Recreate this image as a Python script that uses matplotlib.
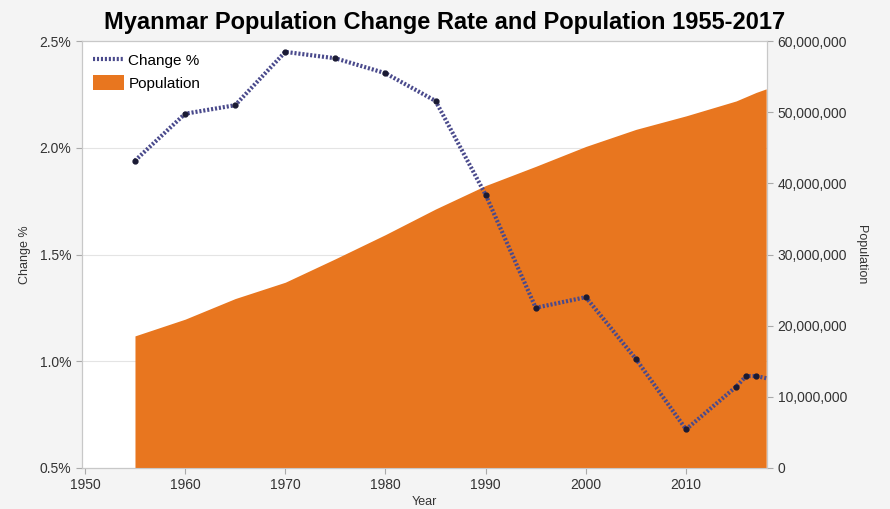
import matplotlib.pyplot as plt
from matplotlib.ticker import FuncFormatter
from matplotlib.lines import Line2D
from matplotlib.patches import Patch

plt.rcParams['font.family'] = ['Liberation Sans', 'DejaVu Sans']

years = [1955, 1960, 1965, 1970, 1975, 1980, 1985, 1990, 1995, 2000,
         2005, 2010, 2015, 2016, 2017, 2018]
change_pct = [1.94, 2.16, 2.20, 2.45, 2.42, 2.35, 2.22, 1.78, 1.25, 1.30,
              1.01, 0.68, 0.88, 0.93, 0.93, 0.92]
population = [18.55e6, 20.9e6, 23.8e6, 26.1e6, 29.4e6, 32.8e6, 36.4e6, 39.7e6,
              42.4e6, 45.2e6, 47.6e6, 49.5e6, 51.6e6, 52.2e6, 52.8e6, 53.3e6]

orange = '#e8761f'
line_col = '#4a4a8c'
dots = (0, (0.5, 0.45))

fig = plt.figure(figsize=(8.9, 5.09), dpi=100, facecolor='#f4f4f4')
ax = fig.add_axes([0.092, 0.081, 0.77, 0.838])
ax.set_facecolor('white')
ax2 = ax.twinx()

ax.grid(axis='y', color='#e4e4e4', linewidth=0.8)
ax.set_axisbelow(True)

ax2.fill_between(years, population, 0, color=orange, linewidth=0, zorder=1)
# the line is drawn on the right axes but in left-axis units, so it sits on the fill
ax2.plot(years, change_pct, transform=ax.transData, linestyle=dots,
         linewidth=3, color=line_col, marker='o', markersize=3.5,
         markerfacecolor='#1a1a33', markeredgecolor='#1a1a33',
         markevery=slice(0, -1), zorder=3)

ax.set_xlim(1949.7, 2018.1)
ax.set_ylim(0.5, 2.5)
ax2.set_ylim(0, 60e6)

ax.set_xticks([1950, 1960, 1970, 1980, 1990, 2000, 2010])
ax.set_yticks([0.5, 1.0, 1.5, 2.0, 2.5])
ax.yaxis.set_major_formatter(FuncFormatter(lambda v, p: f"{v:.1f}%"))
ax2.set_yticks([0, 10e6, 20e6, 30e6, 40e6, 50e6, 60e6])
ax2.yaxis.set_major_formatter(FuncFormatter(lambda v, p: f"{v:,.0f}"))

for a in (ax, ax2):
    a.tick_params(colors='#aaaaaa', labelcolor='#333333', labelsize=10,
                  length=4, width=0.8)
    for s in a.spines.values():
        s.set_color('#c8c8c8')
        s.set_linewidth(0.8)

ax.set_xlabel("Year", fontsize=9, color='#333333', labelpad=3)
ax.set_ylabel("Change %", fontsize=9, color='#333333', labelpad=6)
ax2.set_ylabel("Population", fontsize=9, color='#333333', rotation=270,
               labelpad=14)

handles = [Line2D([], [], linestyle=dots, linewidth=3, color=line_col),
           Patch(facecolor=orange, edgecolor='none')]
ax2.legend(handles, ["Change %", "Population"], loc='upper left',
           frameon=False, fontsize=11, handlelength=2.0, handleheight=1.1,
           handletextpad=0.3, labelspacing=0.45, borderaxespad=0.35)

fig.suptitle("Myanmar Population Change Rate and Population 1955-2017",
             fontsize=17, fontweight='bold', x=0.5, y=0.978)

fig.savefig('out.png', dpi=100, facecolor=fig.get_facecolor())
